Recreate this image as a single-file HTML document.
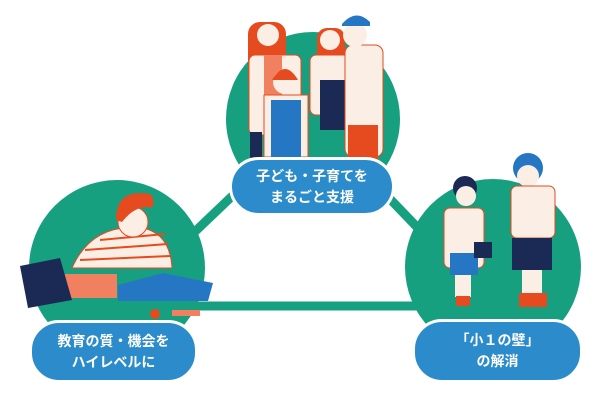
<!DOCTYPE html>
<html><head><meta charset="utf-8"><style>
html,body{margin:0;padding:0;background:#fff;width:600px;height:400px;overflow:hidden}
.pill{position:absolute;background:#2b8bcb;border:3px solid #fff;border-radius:30px;color:#fff;font-family:"Liberation Sans","Noto Sans CJK JP",sans-serif;font-weight:bold;font-size:14px;line-height:21px;text-align:center;display:flex;align-items:center;justify-content:center}
</style></head><body>
<svg width="600" height="400" style="position:absolute;left:0;top:0">
<g stroke="#17a07f" stroke-width="9" fill="none">
<line x1="313" y1="119" x2="117" y2="306"/>
<line x1="313" y1="119" x2="493" y2="306"/>
<line x1="117" y1="306" x2="493" y2="306"/>
</g>
<g fill="#17a07f">
<circle cx="313" cy="119" r="87"/>
<circle cx="117" cy="268" r="88"/>
<circle cx="493" cy="267" r="88"/>
</g>
<!-- top family -->
<g>
<rect x="248" y="22" width="38" height="70" rx="12" fill="#e64a1f"/>
<rect x="249" y="55" width="52" height="80" rx="6" fill="#fbeee4" stroke="#e64a1f"/>
<rect x="264" y="55" width="18" height="40" fill="#f08060"/>
<rect x="250" y="132" width="12" height="28" fill="#1b2a55"/>
<circle cx="268" cy="35" r="11" fill="#fbeee4"/>
<rect x="264" y="95" width="44" height="62" fill="#fbeee4" stroke="#e64a1f"/>
<rect x="271" y="100" width="30" height="57" fill="#2577c4"/>
<circle cx="285" cy="82" r="12" fill="#fbeee4"/>
<path d="M272 80 q13 -22 26 0 z" fill="#e64a1f"/>
<rect x="317" y="28" width="28" height="40" rx="10" fill="#e64a1f"/>
<rect x="310" y="55" width="40" height="60" rx="6" fill="#fbeee4" stroke="#e64a1f"/>
<rect x="320" y="80" width="28" height="50" fill="#1b2a55"/>
<circle cx="330" cy="40" r="10" fill="#fbeee4"/>
<rect x="345" y="45" width="38" height="112" rx="8" fill="#fbeee4" stroke="#e64a1f"/>
<rect x="348" y="125" width="30" height="35" fill="#e64a1f"/>
<circle cx="355" cy="35" r="12" fill="#fbeee4"/>
<path d="M342 24 q14 -16 28 -2 l0 4 l-28 0 z" fill="#2577c4"/>
</g>
<!-- left boy -->
<g>
<path d="M72 268 q20 -45 70 -40 q28 5 30 40 z" fill="#fbeee4" stroke="#e64a1f"/>
<g stroke="#e64a1f" stroke-width="2"><line x1="85" y1="250" x2="168" y2="244"/><line x1="80" y1="260" x2="170" y2="256"/><line x1="100" y1="240" x2="165" y2="234"/></g>
<circle cx="133" cy="222" r="15" fill="#fbeee4" stroke="#e64a1f"/>
<path d="M116 220 q0 -32 34 -26 q6 6 2 14 q-16 -4 -30 14 z" fill="#e64a1f"/>
<rect x="65" y="274" width="52" height="24" fill="#f08060"/>
<path d="M118 285 l45 -12 l50 10 l-5 18 l-90 0 z" fill="#2577c4"/>
<path d="M20 266 l40 -8 l12 42 l-44 8 z" fill="#1b2a55"/>
<rect x="172" y="310" width="28" height="6" fill="#f08060"/>
<circle cx="155" cy="314" r="5" fill="#e64a1f"/>
</g>
<!-- right girls -->
<g>
<circle cx="465" cy="188" r="12" fill="#1b2a55"/>
<circle cx="466" cy="196" r="10" fill="#fbeee4"/>
<rect x="444" y="208" width="40" height="60" rx="6" fill="#fbeee4" stroke="#e64a1f"/>
<rect x="450" y="253" width="28" height="22" fill="#2577c4"/>
<rect x="474" y="242" width="18" height="16" fill="#1b2a55"/>
<rect x="455" y="275" width="16" height="22" fill="#fbeee4"/>
<rect x="456" y="296" width="14" height="10" fill="#e64a1f"/>
<circle cx="528" cy="168" r="15" fill="#2577c4"/>
<circle cx="528" cy="176" r="11" fill="#fbeee4"/>
<rect x="511" y="186" width="44" height="52" rx="6" fill="#fbeee4" stroke="#e64a1f"/>
<rect x="512" y="238" width="40" height="32" fill="#1b2a55"/>
<rect x="522" y="270" width="20" height="24" fill="#fbeee4"/>
<rect x="519" y="293" width="28" height="14" fill="#e64a1f"/>
</g>
</svg>
<div class="pill" style="left:229px;top:157px;width:160px;height:53px">子ども・子育てを<br>まるごと支援</div>
<div class="pill" style="left:29px;top:320px;width:163px;height:57px">教育の質・機会を<br>ハイレベルに</div>
<div class="pill" style="left:412px;top:319px;width:165px;height:58px">「小１の壁」<br>の解消</div>
</body></html>
